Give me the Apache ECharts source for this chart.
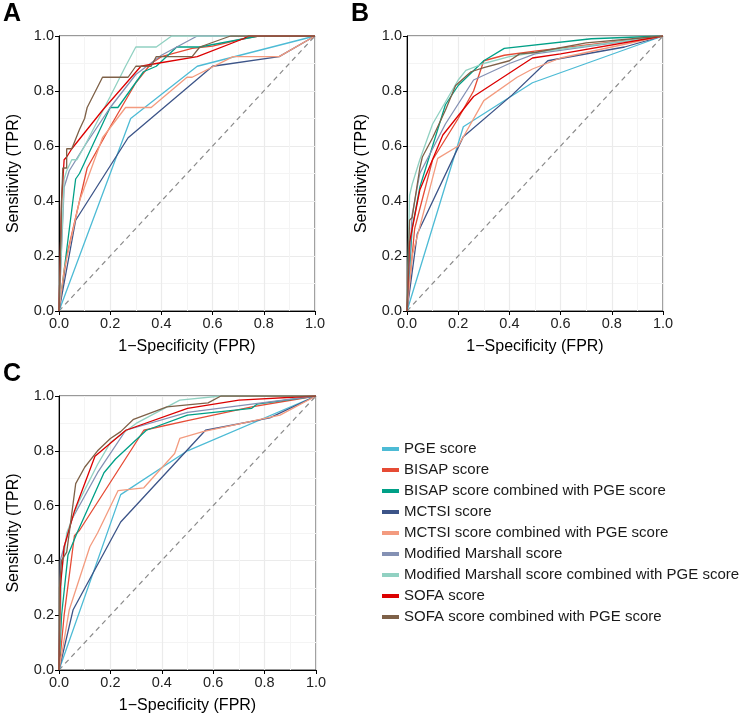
<!DOCTYPE html>
<html>
<head>
<meta charset="utf-8">
<script src="https://cdn.jsdelivr.net/npm/echarts@6/dist/echarts.min.js"></script>
<style>
  html, body { margin: 0; padding: 0; background: #fff; }
  #main { width: 740px; height: 718px; }
</style>
</head>
<body>
<div id="main"></div>
<script>
// score names, in legend order
var scoreNames = [
  'PGE score',
  'BISAP score',
  'BISAP score combined with PGE score',
  'MCTSI score',
  'MCTSI score combined with PGE score',
  'Modified Marshall score',
  'Modified Marshall score combined with PGE score',
  'SOFA score',
  'SOFA score combined with PGE score'
];
var scoreColors = ['#4DBBD5', '#E64B35', '#00A087', '#3C5488', '#F39B7F', '#8491B4', '#91D1C2', '#DC0000', '#7E6148'];

/* Panel A: [FPR, TPR] */
var A_pge = [[0,0],[0.28,0.70],[0.54,0.89],[1,1]];
var A_bisap = [[0,0],[0.03,0.2],[0.11,0.52],[0.2,0.67],[0.3,0.83],[0.36,0.9],[0.4,0.925],[0.52,0.955],[0.6,0.963],[0.72,0.99],[0.78,1],[1,1]];
var A_bisapPge = [[0,0],[0.065,0.48],[0.08,0.5],[0.2,0.74],[0.23,0.74],[0.33,0.87],[0.38,0.89],[0.46,0.96],[0.55,0.96],[0.78,1],[1,1]];
var A_mctsi = [[0,0],[0.065,0.33],[0.27,0.63],[0.6,0.89],[0.86,0.925],[1,1]];
var A_mctsiPge = [[0,0],[0.02,0.15],[0.08,0.4],[0.17,0.63],[0.26,0.74],[0.36,0.74],[0.5,0.85],[0.52,0.85],[0.68,0.925],[0.86,0.925],[1,1]];
var A_marshall = [[0,0],[0.02,0.45],[0.04,0.51],[0.1,0.6],[0.2,0.74],[0.3,0.86],[0.4,0.93],[0.54,1],[1,1]];
var A_marshallPge = [[0,0],[0.02,0.48],[0.03,0.51],[0.05,0.55],[0.07,0.55],[0.1,0.6],[0.2,0.78],[0.26,0.89],[0.3,0.96],[0.38,0.96],[0.44,1],[1,1]];
var A_sofa = [[0,0],[0.01,0.4],[0.02,0.55],[0.03,0.56],[0.05,0.59],[0.17,0.73],[0.32,0.89],[0.38,0.9],[0.54,0.925],[0.72,0.99],[0.74,1],[1,1]];
var A_sofaPge = [[0,0],[0.01,0.4],[0.015,0.52],[0.03,0.52],[0.03,0.59],[0.05,0.59],[0.08,0.66],[0.1,0.7],[0.11,0.74],[0.17,0.85],[0.27,0.85],[0.3,0.89],[0.36,0.89],[0.38,0.925],[0.52,0.925],[0.55,0.96],[0.67,1],[1,1]];

/* Panel B */
var B_pge = [[0,0],[0.22,0.67],[0.49,0.83],[1,1]];
var B_bisap = [[0,0],[0.03,0.3],[0.1,0.55],[0.2,0.7],[0.26,0.8],[0.3,0.91],[0.38,0.93],[0.5,0.945],[1,1]];
var B_bisapPge = [[0,0],[0.02,0.3],[0.05,0.45],[0.1,0.6],[0.15,0.75],[0.2,0.82],[0.3,0.91],[0.38,0.955],[0.72,0.99],[1,1]];
var B_mctsi = [[0,0],[0.04,0.28],[0.05,0.3],[0.22,0.634],[0.41,0.785],[0.55,0.91],[0.85,0.96],[1,1]];
var B_mctsiPge = [[0,0],[0.02,0.2],[0.12,0.555],[0.2,0.6],[0.3,0.765],[0.43,0.85],[0.49,0.88],[0.6,0.92],[1,1]];
var B_marshall = [[0,0],[0.02,0.35],[0.05,0.5],[0.15,0.68],[0.26,0.84],[0.4,0.9],[0.5,0.935],[1,1]];
var B_marshallPge = [[0,0],[0.01,0.42],[0.02,0.46],[0.05,0.55],[0.1,0.68],[0.15,0.76],[0.2,0.84],[0.23,0.875],[0.3,0.9],[0.4,0.925],[0.5,0.94],[1,1]];
var B_sofa = [[0,0],[0.01,0.25],[0.05,0.44],[0.14,0.64],[0.26,0.78],[0.49,0.92],[0.6,0.935],[1,1]];
var B_sofaPge = [[0,0],[0.01,0.33],[0.02,0.34],[0.05,0.52],[0.06,0.56],[0.1,0.63],[0.15,0.73],[0.19,0.82],[0.25,0.87],[0.3,0.885],[0.4,0.91],[0.44,0.935],[0.5,0.94],[0.7,0.975],[1,1]];

/* Panel C */
var C_pge = [[0,0],[0.24,0.64],[0.5,0.8],[1,1]];
var C_bisap = [[0,0],[0.02,0.2],[0.06,0.49],[0.08,0.51],[0.33,0.875],[0.5,0.91],[0.75,0.96],[1,1]];
var C_bisapPge = [[0,0],[0.01,0.2],[0.035,0.42],[0.07,0.5],[0.175,0.72],[0.22,0.77],[0.34,0.875],[0.5,0.93],[0.75,0.955],[0.77,0.97],[1,1]];
var C_mctsi = [[0,0],[0.055,0.22],[0.24,0.54],[0.57,0.875],[0.82,0.92],[1,1]];
var C_mctsiPge = [[0,0],[0.04,0.22],[0.12,0.45],[0.15,0.5],[0.23,0.655],[0.33,0.665],[0.45,0.79],[0.47,0.845],[0.56,0.87],[0.86,0.93],[1,1]];
var C_marshall = [[0,0],[0.005,0.4],[0.02,0.45],[0.05,0.55],[0.15,0.72],[0.26,0.875],[0.5,0.94],[0.75,0.97],[1,1]];
var C_marshallPge = [[0,0],[0.01,0.35],[0.03,0.5],[0.08,0.62],[0.15,0.75],[0.2,0.83],[0.3,0.9],[0.47,0.985],[0.63,1],[1,1]];
var C_sofa = [[0,0],[0.005,0.3],[0.02,0.45],[0.06,0.58],[0.14,0.78],[0.26,0.875],[0.5,0.955],[0.7,0.985],[1,1]];
var C_sofaPge = [[0,0],[0.002,0.3],[0.01,0.4],[0.03,0.43],[0.065,0.68],[0.1,0.74],[0.15,0.8],[0.2,0.845],[0.24,0.87],[0.29,0.915],[0.42,0.96],[0.58,0.975],[0.63,1],[1,1]];

// chance line
var diagonal = [[0,0],[1,1]];

var panels = [
  { label: 'A', grid: { left: 59, top: 36, width: 256, height: 275 },
    curves: [A_pge, A_bisap, A_bisapPge, A_mctsi, A_mctsiPge, A_marshall, A_marshallPge, A_sofa, A_sofaPge] },
  { label: 'B', grid: { left: 407, top: 36, width: 256, height: 275 },
    curves: [B_pge, B_bisap, B_bisapPge, B_mctsi, B_mctsiPge, B_marshall, B_marshallPge, B_sofa, B_sofaPge] },
  { label: 'C', grid: { left: 59, top: 396, width: 257, height: 274 },
    curves: [C_pge, C_bisap, C_bisapPge, C_mctsi, C_mctsiPge, C_marshall, C_marshallPge, C_sofa, C_sofaPge] }
];

var fontFamily = 'Liberation Sans, Arial, sans-serif';

function makeAxis(idx, isX) {
  return {
    type: 'value',
    gridIndex: idx,
    min: 0,
    max: 1,
    interval: 0.2,
    name: isX ? '1\u2212Specificity (FPR)' : 'Sensitivity (TPR)',
    nameLocation: 'middle',
    nameGap: isX ? 28 : 37,
    nameTextStyle: { fontSize: 16, color: '#000', fontFamily: fontFamily },
    axisLine: { show: true, onZero: false, lineStyle: { color: '#000', width: 1 } },
    axisTick: { show: true, length: 4, lineStyle: { color: '#000' } },
    axisLabel: {
      fontSize: 14.5, color: '#222', margin: 5, fontFamily: fontFamily,
      formatter: function (v) { return v.toFixed(1); }
    },
    splitLine: { show: true, lineStyle: { color: '#EBEBEB', width: 1.2 } },
    minorTick: { show: false, splitNumber: 2 },
    minorSplitLine: { show: true, lineStyle: { color: '#F4F4F4', width: 1 } }
  };
}

var grids = [], xAxes = [], yAxes = [], series = [], titles = [];
panels.forEach(function (p, i) {
  grids.push(Object.assign({ show: true, borderColor: '#333', borderWidth: 1, backgroundColor: '#fff' }, p.grid));
  xAxes.push(makeAxis(i, true));
  yAxes.push(makeAxis(i, false));
  titles.push({
    text: p.label,
    left: p.grid.left - 56,
    top: p.grid.top - 34,
    padding: 0,
    textStyle: { fontSize: 25, fontWeight: 'bold', color: '#000', fontFamily: fontFamily }
  });
  series.push({
    type: 'line',
    xAxisIndex: i,
    yAxisIndex: i,
    data: diagonal,
    showSymbol: false,
    silent: true,
    lineStyle: { color: '#8a8a8a', width: 1.2, type: [5, 4] },
    z: 1
  });
  p.curves.forEach(function (c, k) {
    series.push({
      name: scoreNames[k],
      type: 'line',
      xAxisIndex: i,
      yAxisIndex: i,
      data: c,
      showSymbol: false,
      color: scoreColors[k],
      lineStyle: { width: 1.3 },
      z: 2 + k
    });
  });
});

var chart = echarts.init(document.getElementById('main'));
chart.setOption({
  animation: false,
  backgroundColor: '#fff',
  title: titles,
  grid: grids,
  xAxis: xAxes,
  yAxis: yAxes,
  legend: {
    orient: 'vertical',
    left: 377,
    top: 436,
    data: scoreNames,
    icon: 'rect',
    itemWidth: 17,
    itemHeight: 4,
    itemGap: 5,
    textStyle: { fontSize: 15, color: '#1a1a1a', fontFamily: fontFamily, lineHeight: 16 }
  },
  series: series
});
window.addEventListener('resize', function () {
  chart.resize();
});
</script>
</body>
</html>
